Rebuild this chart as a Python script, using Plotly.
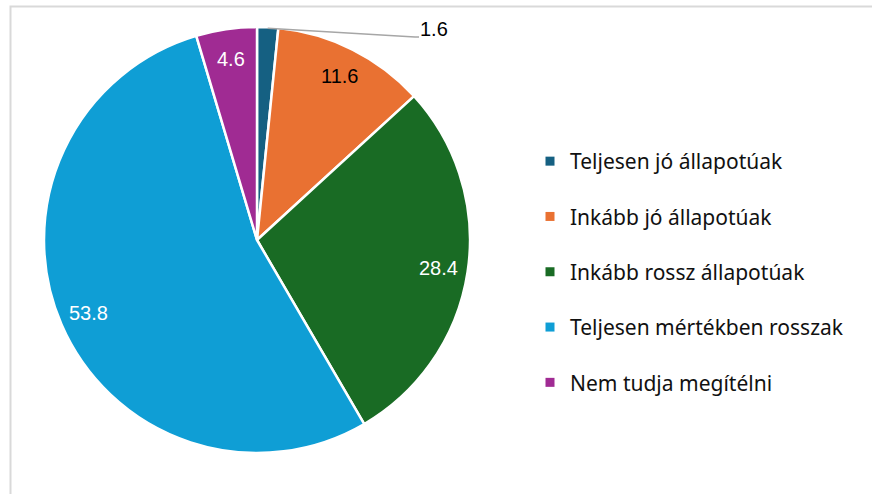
import math
import plotly.graph_objects as go

categories = ["Teljesen jó állapotúak", "Inkább jó állapotúak", "Inkább rossz állapotúak",
              "Teljesen mértékben rosszak", "Nem tudja megítélni"]
values = [1.6, 11.6, 28.4, 53.8, 4.6]
value_labels = ["1.6", "11.6", "28.4", "53.8", "4.6"]
colors = ["#156082", "#E97132", "#196B24", "#0F9ED5", "#A02B93"]
label_colors = ["#000000", "#000000", "#FFFFFF", "#FFFFFF", "#FFFFFF"]

W, H = 872, 494
cx, cy, R = 257, 240, 213  # pie centre/radius in pixels

def px(x):
    return x / W

def py(y):
    return 1 - y / H

fig = go.Figure()
fig.add_trace(go.Pie(
    labels=categories, values=values, sort=False, direction="clockwise", rotation=0,
    marker=dict(colors=colors, line=dict(color="white", width=2.5)),
    textinfo="none", hoverinfo="label+value", showlegend=False,
    domain=dict(x=[px(cx - R), px(cx + R)], y=[py(cy + R), py(cy - R)]),
))

# legend entries
for c, col in zip(categories, colors):
    fig.add_trace(go.Scatter(x=[None], y=[None], mode="markers", name=c, legendgroup=c,
                             marker=dict(symbol="square", size=9, color=col)))

# data labels
total = sum(values)
cum = 0
annotations = []
shapes = []
lab_font = "Liberation Sans"
for i, v in enumerate(values):
    mid = (cum + v / 2) / total * 2 * math.pi
    cum += v
    if i == 0:
        ex, ey = cx + R * math.sin(mid), cy - R * math.cos(mid)
        shapes.append(dict(type="path", xref="paper", yref="paper",
                           path=f"M {px(ex)} {py(ey + 1)} L {px(415)} {py(37)} L {px(419)} {py(37)}",
                           line=dict(color="#a6a6a6", width=1.5)))
        annotations.append(dict(x=px(418), y=py(29), xref="paper", yref="paper", text=value_labels[i],
                                showarrow=False, xanchor="left", yanchor="middle",
                                font=dict(size=20, color=label_colors[i], family=lab_font)))
        continue
    r = 0.86 * R
    lx, ly = cx + r * math.sin(mid), cy - r * math.cos(mid)
    annotations.append(dict(x=px(lx), y=py(ly), xref="paper", yref="paper", text=value_labels[i],
                            showarrow=False, xanchor="center", yanchor="middle",
                            font=dict(size=20, color=label_colors[i], family=lab_font)))

# chart border
shapes.append(dict(type="rect", xref="paper", yref="paper", x0=px(10.5), y0=-0.05, x1=1.05, y1=py(6.5),
                   line=dict(color="#d9d9d9", width=2), layer="below"))

fig.update_layout(
    width=W, height=H, margin=dict(l=0, r=0, t=0, b=0),
    paper_bgcolor="white", plot_bgcolor="white",
    xaxis=dict(visible=False), yaxis=dict(visible=False),
    showlegend=True,
    legend=dict(x=px(530), y=py(141), xanchor="left", yanchor="top", tracegroupgap=25,
                font=dict(size=21, family="Noto Sans", color="#111111"), itemclick=False),
    annotations=annotations, shapes=shapes,
)
fig.write_html("out.html", post_script="document.body.style.margin='0';",
               config={"displayModeBar": False})
